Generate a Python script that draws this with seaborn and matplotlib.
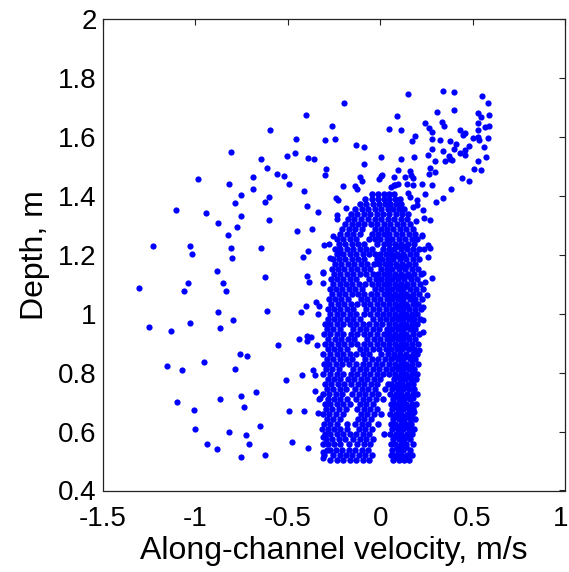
import matplotlib
matplotlib.use("Agg")
import matplotlib.pyplot as plt
import matplotlib.transforms as mtransforms
import seaborn as sns
import pandas as pd

# ---------------- data ----------------
# sparse points on the left (velocity, depth)
left_vel = [-0.404, -0.599, -0.453, -0.805, -0.643, -0.505, -0.460, -0.388, -0.610, -0.559,
            -0.521, -0.691, -0.984, -0.816, -0.491, -0.686, -0.410, -0.753, -0.601, -0.785,
            -0.626, -0.394, -1.105, -0.942, -0.603, -0.753, -0.877, -0.773, -0.448, -0.821,
            -1.227, -1.027, -0.808, -0.643, -1.020, -0.801, -0.417, -0.391, -0.884, -0.623,
            -0.397, -1.303, -1.041, -0.848, -1.060, -0.834, -0.383, -0.402, -0.610, -0.877,
            -0.429, -1.249, -1.133, -1.029, -0.866, -0.798, -0.394, -0.394, -0.442, -0.554,
            -0.760, -0.722, -1.153, -1.072, -0.953, -0.785, -0.424, -0.511, -0.673, -0.753,
            -1.097, -0.866, -0.735, -1.009, -0.493, -0.410, -0.648, -1.003, -0.818, -0.727,
            -0.935, -0.709, -0.475, -0.884, -0.754, -0.623, -0.388]
left_depth = [1.673, 1.623, 1.593, 1.548, 1.525, 1.536, 1.545, 1.529, 1.494, 1.475,
              1.466, 1.463, 1.455, 1.440, 1.440, 1.423, 1.416, 1.401, 1.396, 1.374,
              1.377, 1.364, 1.350, 1.342, 1.318, 1.330, 1.307, 1.294, 1.280, 1.266,
              1.229, 1.229, 1.221, 1.221, 1.201, 1.188, 1.193, 1.213, 1.146, 1.123,
              1.127, 1.087, 1.103, 1.103, 1.076, 1.076, 1.108, 1.025, 1.009, 1.006,
              1.006, 0.955, 0.940, 0.967, 0.951, 0.978, 0.924, 0.907, 0.913, 0.892,
              0.862, 0.857, 0.822, 0.807, 0.835, 0.811, 0.792, 0.776, 0.733, 0.721,
              0.701, 0.709, 0.682, 0.674, 0.671, 0.671, 0.620, 0.607, 0.599, 0.588,
              0.558, 0.557, 0.564, 0.542, 0.514, 0.521, 0.545]

# points along the edges of the dense cluster
edge_vel = [-0.336, -0.367, -0.348, -0.329, -0.336, -0.374, -0.341, -0.361, -0.354, -0.352,
            -0.332, -0.336, -0.253, -0.303, -0.275, -0.222, -0.234, -0.234, -0.186, -0.227,
            -0.238, -0.271, -0.307, -0.307, -0.310, -0.325, -0.316, -0.307, -0.312, -0.307,
            0.226, 0.271, 0.256, 0.231, 0.280, 0.240, 0.253, 0.234, 0.234, 0.234,
            0.208, 0.177, 0.180, 0.184]
edge_depth = [1.345, 1.286, 1.038, 1.025, 0.998, 0.920, 0.892, 0.808, 0.791, 0.738,
              0.709, 0.662, 1.263, 1.232, 1.236, 1.206, 1.333, 1.321, 1.358, 1.385,
              1.392, 1.187, 1.142, 1.102, 1.138, 0.712, 0.607, 0.582, 0.532, 0.509,
              1.266, 1.221, 1.193, 1.138, 1.119, 1.108, 1.063, 1.021, 0.978, 0.938,
              0.876, 0.712, 0.690, 0.667]

# upper tail of the cloud
upper_vel = [-0.197, 0.090, -0.260, 0.045, -0.298, -0.247, -0.130, -0.085, -0.359, 0.002,
             -0.292, -0.298, -0.085, -0.204, -0.134, -0.107, -0.099, -0.007, 0.005, 0.076,
             0.094, -0.126, 0.072, 0.153, 0.339, 0.400, 0.552, 0.583, 0.309, 0.400,
             0.115, 0.245, 0.265, 0.280, 0.334, 0.347, 0.527, 0.547, 0.589, 0.527,
             0.569, 0.589, 0.527, 0.433, 0.459, 0.448, 0.189, 0.172, 0.278, 0.321,
             0.377, 0.502, 0.527, 0.536, 0.585, 0.411, 0.402, 0.478, 0.459, 0.559,
             0.278, 0.339, 0.182, 0.260, 0.110, 0.433, 0.459, 0.298, 0.370, 0.379,
             0.348, 0.390, 0.527, 0.570, 0.509, 0.545, 0.272, 0.298, 0.262, 0.159,
             0.164, 0.134, 0.180, 0.444, 0.478, 0.097, 0.145, 0.226, 0.278, 0.384,
             0.338, 0.303, 0.271, 0.238, 0.224, 0.256, 0.238, 0.195, 0.244, 0.197,
             0.180, 0.148, 0.009, 0.060, 0.081, 0.180, 0.162, 0.199, 0.234]
upper_depth = [1.714, 1.670, 1.635, 1.626, 1.588, 1.592, 1.572, 1.564, 1.525, 1.530,
               1.491, 1.471, 1.506, 1.432, 1.431, 1.462, 1.450, 1.457, 1.466, 1.462,
               1.486, 1.424, 1.436, 1.744, 1.755, 1.752, 1.737, 1.713, 1.685, 1.690,
               1.623, 1.645, 1.631, 1.615, 1.650, 1.635, 1.679, 1.665, 1.674, 1.647,
               1.633, 1.635, 1.622, 1.623, 1.613, 1.607, 1.603, 1.585, 1.592, 1.587,
               1.585, 1.594, 1.599, 1.588, 1.595, 1.574, 1.559, 1.568, 1.554, 1.564,
               1.557, 1.553, 1.530, 1.537, 1.525, 1.543, 1.537, 1.517, 1.533, 1.525,
               1.518, 1.520, 1.518, 1.530, 1.489, 1.486, 1.492, 1.479, 1.474, 1.483,
               1.469, 1.462, 1.460, 1.460, 1.448, 1.441, 1.439, 1.439, 1.436, 1.424,
               1.391, 1.377, 1.319, 1.325, 1.264, 1.232, 1.219, 1.313, 1.407, 1.385,
               1.362, 1.408, 1.469, 1.430, 1.436, 1.436, 1.396, 1.368, 1.351]

# dense core: one depth per row, with the velocities read along that row
core_depth = [0.505, 0.522, 0.539, 0.556, 0.573, 0.590, 0.607, 0.624, 0.641, 0.658,
              0.675, 0.692, 0.709, 0.726, 0.743, 0.760, 0.777, 0.794, 0.811, 0.828,
              0.845, 0.862, 0.879, 0.896, 0.913, 0.930, 0.947, 0.964, 0.981, 0.998,
              1.015, 1.032, 1.049, 1.066, 1.083, 1.100, 1.117, 1.134, 1.151, 1.168,
              1.185, 1.202, 1.219, 1.236, 1.253, 1.270, 1.287, 1.304, 1.321, 1.338,
              1.355, 1.372, 1.389, 1.405]
core_vel = [
    [-0.27, -0.235, -0.20, -0.165, -0.13, -0.095, -0.06, 0.07, 0.10, 0.13, 0.155],
    [-0.305, -0.255, -0.22, -0.185, -0.15, -0.115, -0.08, -0.045, 0.06, 0.085, 0.115, 0.145, 0.17],
    [-0.29, -0.27, -0.24, -0.205, -0.17, -0.135, -0.10, -0.065, 0.065, 0.095, 0.125, 0.16],
    [-0.31, -0.28, -0.25, -0.215, -0.17, -0.125, -0.09, -0.055, 0.06, 0.08, 0.11, 0.14, 0.175],
    [-0.295, -0.26, -0.225, -0.19, -0.145, -0.11, -0.075, -0.04, 0.07, 0.10, 0.13, 0.16],
    [-0.30, -0.27, -0.235, -0.20, -0.165, -0.13, -0.095, -0.06, 0.02, 0.055, 0.085, 0.115, 0.145, 0.17],
    [-0.285, -0.25, -0.215, -0.18, -0.115, -0.08, -0.045, 0.065, 0.095, 0.125, 0.155, 0.185],
    [-0.305, -0.27, -0.235, -0.18, -0.135, -0.10, -0.065, -0.01, 0.06, 0.08, 0.11, 0.14, 0.165],
    [-0.29, -0.255, -0.22, -0.12, -0.085, -0.05, 0.07, 0.10, 0.13, 0.16, 0.19],
    [-0.31, -0.275, -0.24, -0.20, -0.105, -0.07, -0.035, 0.005, 0.055, 0.085, 0.115, 0.145, 0.17],
    [-0.295, -0.26, -0.225, -0.185, -0.125, -0.09, -0.055, -0.02, 0.065, 0.095, 0.125, 0.155, 0.18],
    [-0.30, -0.27, -0.235, -0.20, -0.165, -0.11, -0.075, -0.04, 0.06, 0.085, 0.11, 0.14, 0.17, 0.195],
    [-0.285, -0.25, -0.215, -0.18, -0.13, -0.095, -0.06, -0.025, 0.015, 0.07, 0.10, 0.13, 0.16],
    [-0.31, -0.275, -0.24, -0.205, -0.15, -0.115, -0.08, -0.045, -0.01, 0.055, 0.085, 0.115, 0.145, 0.175, 0.20],
    [-0.29, -0.255, -0.22, -0.185, -0.135, -0.10, -0.065, -0.03, 0.025, 0.065, 0.095, 0.125, 0.155, 0.185],
    [-0.30, -0.265, -0.23, -0.195, -0.16, -0.12, -0.085, -0.05, -0.015, 0.04, 0.06, 0.09, 0.12, 0.15, 0.175],
    [-0.285, -0.25, -0.215, -0.175, -0.14, -0.105, -0.07, -0.035, 0.0, 0.075, 0.105, 0.135, 0.165, 0.195],
    [-0.31, -0.27, -0.235, -0.20, -0.16, -0.125, -0.09, -0.055, -0.02, 0.015, 0.05, 0.08, 0.11, 0.14, 0.17, 0.20],
    [-0.295, -0.26, -0.225, -0.145, -0.11, -0.075, -0.04, -0.005, 0.03, 0.065, 0.095, 0.125, 0.155, 0.185],
    [-0.305, -0.275, -0.24, -0.205, -0.17, -0.13, -0.095, -0.06, -0.025, 0.01, 0.045, 0.08, 0.11, 0.14, 0.17, 0.205],
    [-0.29, -0.255, -0.22, -0.185, -0.15, -0.08, -0.045, -0.01, 0.025, 0.06, 0.095, 0.125, 0.16, 0.19],
    [-0.31, -0.27, -0.235, -0.20, -0.165, -0.13, -0.095, -0.06, 0.005, 0.04, 0.075, 0.105, 0.14, 0.175, 0.20],
    [-0.285, -0.25, -0.215, -0.18, -0.11, -0.075, -0.04, -0.005, 0.03, 0.06, 0.09, 0.12, 0.155, 0.185],
    [-0.30, -0.265, -0.23, -0.195, -0.16, -0.125, -0.09, -0.055, -0.02, 0.015, 0.05, 0.08, 0.11, 0.14, 0.17, 0.205],
    [-0.28, -0.245, -0.21, -0.175, -0.14, -0.07, -0.035, 0.0, 0.035, 0.065, 0.095, 0.125, 0.155, 0.19],
    [-0.305, -0.27, -0.235, -0.20, -0.16, -0.125, -0.09, -0.055, -0.015, 0.02, 0.05, 0.08, 0.11, 0.14, 0.175, 0.21],
    [-0.29, -0.255, -0.22, -0.145, -0.11, -0.075, -0.04, -0.005, 0.035, 0.065, 0.095, 0.125, 0.16, 0.19],
    [-0.30, -0.27, -0.235, -0.20, -0.165, -0.13, -0.095, -0.06, -0.025, 0.01, 0.045, 0.08, 0.11, 0.14, 0.17, 0.20],
    [-0.285, -0.25, -0.215, -0.18, -0.145, -0.11, -0.04, 0.0, 0.03, 0.065, 0.095, 0.125, 0.155, 0.185, 0.215],
    [-0.27, -0.235, -0.20, -0.165, -0.13, -0.09, -0.055, -0.02, 0.015, 0.05, 0.08, 0.11, 0.14, 0.17, 0.20],
    [-0.28, -0.25, -0.215, -0.18, -0.145, -0.075, -0.04, -0.005, 0.03, 0.065, 0.095, 0.125, 0.155, 0.19, 0.22],
    [-0.265, -0.23, -0.195, -0.16, -0.125, -0.09, -0.055, -0.02, 0.015, 0.045, 0.08, 0.11, 0.14, 0.175, 0.205],
    [-0.275, -0.245, -0.21, -0.175, -0.105, -0.07, -0.035, 0.0, 0.035, 0.065, 0.095, 0.125, 0.16, 0.19, 0.225],
    [-0.26, -0.225, -0.19, -0.155, -0.12, -0.085, -0.05, -0.015, 0.02, 0.05, 0.08, 0.11, 0.14, 0.175, 0.21],
    [-0.27, -0.24, -0.205, -0.17, -0.135, -0.10, -0.03, 0.005, 0.035, 0.065, 0.095, 0.125, 0.16, 0.195, 0.23],
    [-0.255, -0.22, -0.185, -0.15, -0.115, -0.08, -0.045, -0.01, 0.02, 0.05, 0.08, 0.11, 0.145, 0.18, 0.215],
    [-0.265, -0.235, -0.20, -0.165, -0.13, -0.06, -0.025, 0.005, 0.035, 0.065, 0.095, 0.13, 0.165, 0.20],
    [-0.25, -0.215, -0.18, -0.145, -0.11, -0.075, -0.04, -0.01, 0.02, 0.05, 0.08, 0.115, 0.15, 0.185, 0.22],
    [-0.26, -0.23, -0.195, -0.16, -0.125, -0.09, -0.055, 0.005, 0.035, 0.065, 0.10, 0.135, 0.17, 0.205],
    [-0.245, -0.21, -0.175, -0.14, -0.105, -0.07, -0.035, -0.005, 0.025, 0.055, 0.085, 0.12, 0.155, 0.19],
    [-0.255, -0.225, -0.19, -0.155, -0.12, -0.085, -0.02, 0.01, 0.04, 0.07, 0.105, 0.14, 0.175, 0.21],
    [-0.235, -0.20, -0.165, -0.13, -0.095, -0.06, -0.03, 0.0, 0.03, 0.06, 0.09, 0.125, 0.16, 0.195],
    [-0.245, -0.215, -0.18, -0.145, -0.11, -0.075, -0.045, 0.015, 0.045, 0.075, 0.11, 0.145, 0.18, 0.21],
    [-0.225, -0.19, -0.155, -0.12, -0.085, -0.015, 0.02, 0.05, 0.08, 0.115, 0.15, 0.185],
    [-0.235, -0.20, -0.165, -0.13, -0.06, -0.03, 0.0, 0.035, 0.065, 0.10, 0.135, 0.17, 0.20],
    [-0.215, -0.18, -0.145, -0.11, -0.045, -0.01, 0.02, 0.05, 0.085, 0.12, 0.155, 0.19],
    [-0.205, -0.17, -0.135, -0.10, -0.03, 0.005, 0.035, 0.07, 0.105, 0.14, 0.175],
    [-0.19, -0.155, -0.12, -0.085, -0.05, -0.015, 0.02, 0.055, 0.09, 0.125, 0.16],
    [-0.175, -0.14, -0.105, -0.065, -0.03, 0.005, 0.04, 0.075, 0.11, 0.145],
    [-0.16, -0.125, -0.09, -0.055, -0.02, 0.015, 0.05, 0.085, 0.12, 0.15],
    [-0.135, -0.10, -0.065, -0.03, 0.005, 0.04, 0.07, 0.10, 0.13],
    [-0.11, -0.075, -0.04, -0.005, 0.025, 0.055, 0.085, 0.115],
    [-0.08, -0.045, -0.01, 0.02, 0.05, 0.08, 0.105],
    [-0.045, -0.01, 0.02, 0.05, 0.075],
]

# extra points of the dark band near +0.1 m/s
band_depth = [0.515, 0.548, 0.582, 0.616, 0.650, 0.684, 0.718, 0.752, 0.786, 0.820, 0.854,
              0.888, 0.922, 0.956, 0.990, 1.024, 1.058, 1.092, 1.126, 1.160, 1.194, 1.228]
band_vel = [
    [0.078, 0.104, 0.128, 0.152], [0.09, 0.118, 0.142], [0.074, 0.1, 0.126, 0.15],
    [0.088, 0.114, 0.14], [0.076, 0.102, 0.13, 0.155], [0.092, 0.12, 0.144],
    [0.075, 0.1, 0.127, 0.153], [0.088, 0.116, 0.142], [0.079, 0.105, 0.13, 0.156],
    [0.091, 0.119, 0.145], [0.077, 0.103, 0.128, 0.154], [0.089, 0.117, 0.141],
    [0.075, 0.101, 0.127, 0.152], [0.09, 0.116, 0.143], [0.078, 0.104, 0.13, 0.155],
    [0.092, 0.118, 0.144], [0.076, 0.102, 0.128, 0.153], [0.089, 0.115, 0.14],
    [0.079, 0.105, 0.131, 0.156], [0.091, 0.117, 0.142], [0.077, 0.103, 0.129],
    [0.09, 0.116, 0.14],
]

x_ticks = [-1.5, -1.0, -0.5, 0.0, 0.5, 1.0]
x_tick_labels = ["-1.5", "-1", "-0.5", "0", "0.5", "1"]
y_ticks = [0.4, 0.6, 0.8, 1.0, 1.2, 1.4, 1.6, 1.8, 2.0]
y_tick_labels = ["0.4", "0.6", "0.8", "1", "1.2", "1.4", "1.6", "1.8", "2"]

# ---------------- build tables ----------------
sp_vel = left_vel + edge_vel + upper_vel
sp_depth = left_depth + edge_depth + upper_depth
df_sparse = pd.DataFrame({"vel": sp_vel, "depth": sp_depth})

c_vel, c_depth = [], []
for d, row in zip(core_depth, core_vel):
    c_vel += row; c_depth += [d] * len(row)
for d, row in zip(band_depth, band_vel):
    c_vel += row; c_depth += [d] * len(row)
df_core = pd.DataFrame({"vel": c_vel, "depth": c_depth})

# ---------------- plot ----------------
sns.set_theme(style="white")
plt.rcParams["font.family"] = ["Liberation Sans", "DejaVu Sans"]

fig = plt.figure(figsize=(5.69, 5.72), dpi=100)
ax = fig.add_axes([103 / 569, 1 - 490.5 / 572, 462 / 569, 471.8 / 572])

sns.scatterplot(data=df_core, x="vel", y="depth", color="#0000ff", s=22, marker="o",
                linewidth=0, ax=ax, legend=False)
sns.scatterplot(data=df_sparse, x="vel", y="depth", color="#0000ff", s=20, marker="o",
                linewidth=0, ax=ax, legend=False)

ax.set_xlim(-1.5, 1.0)
ax.set_ylim(0.4, 2.0)
ax.set_xticks(x_ticks)
ax.set_xticklabels(x_tick_labels)
ax.set_yticks(y_ticks)
ax.set_yticklabels(y_tick_labels)

for sp in ax.spines.values():
    sp.set_visible(True)
    sp.set_color("#222222")
    sp.set_linewidth(0.9)

ax.tick_params(axis="both", which="major", direction="in", length=4, width=0.8,
               color="#222222", top=True, right=True, labelsize=20, labelcolor="black")
ax.tick_params(axis="x", pad=11)
ax.tick_params(axis="y", pad=4.5)

# the last x label sits against the right edge of the picture, as in the reference
last = ax.get_xticklabels()[-1]
last.set_transform(last.get_transform() +
                   mtransforms.ScaledTranslation(-4 / 100, 0, fig.dpi_scale_trans))

ax.set_xlabel("Along-channel velocity, m/s", fontsize=23, color="black", labelpad=3)
ax.set_ylabel("Depth, m", fontsize=23, color="black", labelpad=6)
ax.grid(False)

fig.savefig("out.png", dpi=100)
